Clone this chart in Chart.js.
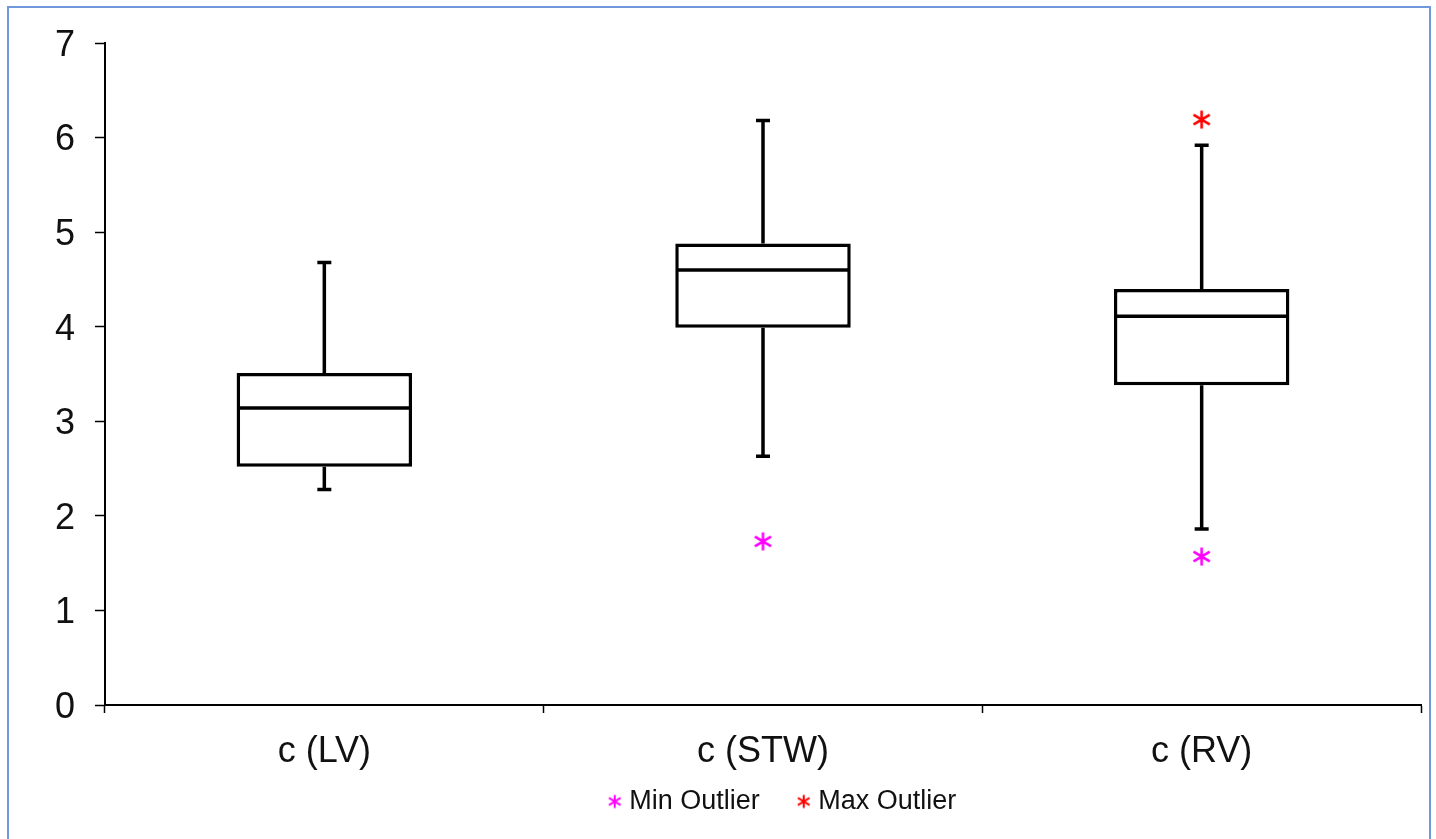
<!DOCTYPE html>
<html>
<head>
<meta charset="utf-8">
<script src="https://cdn.jsdelivr.net/npm/chart.js@4.4.1/dist/chart.umd.min.js"></script>
<style>
  html, body { margin: 0; padding: 0; background: #fff; overflow: hidden; }
  #wrap { position: relative; width: 1436px; height: 839px; }
  #frame {
    position: absolute; left: 7px; top: 6px; width: 1424px; height: 900px;
    border: 2px solid #7197dd; box-sizing: border-box; pointer-events: none;
  }
</style>
</head>
<body>
<div id="wrap">
  <canvas id="chart"></canvas>
  <div id="frame"></div>
</div>
<script>
// categories and box statistics
const categories = ["c (LV)", "c (STW)", "c (RV)"];
const whiskerMin = [2.28, 2.63, 1.86];
const quartile1 = [2.52, 3.99, 3.38];
const medians = [3.14, 4.60, 4.11];
const quartile3 = [3.51, 4.88, 4.40];
const whiskerMax = [4.68, 6.18, 5.92];
const minOutliers = [null, 1.73, 1.57];
const maxOutliers = [null, null, 6.19];
const yTicks = [0, 1, 2, 3, 4, 5, 6, 7];

// asterisk marker drawn on a small canvas
function makeStar(color, size, lw) {
  const c = document.createElement("canvas");
  c.width = size; c.height = size;
  const g = c.getContext("2d");
  const m = size / 2, r = size / 2 - 1.5;
  g.strokeStyle = color;
  g.lineWidth = lw;
  g.beginPath();
  g.moveTo(m, m - r); g.lineTo(m, m + r);
  const dx = r * 0.9, dy = r * 0.55;
  g.moveTo(m - dx, m - dy); g.lineTo(m + dx, m + dy);
  g.moveTo(m - dx, m + dy); g.lineTo(m + dx, m - dy);
  g.stroke();
  return c;
}
const magentaStar = makeStar("#ff00ff", 21, 2.6);
const redStar = makeStar("#ff0000", 21, 2.6);
const magentaSmall = makeStar("#ff00ff", 16, 2);
const redSmall = makeStar("#ff0000", 16, 2);

const lineW = 3.5;

// whiskers + median drawn with the chart's own scales
const boxPlotLines = {
  id: "boxPlotLines",
  afterLayout(chart) {
    // nudge legend: up under the axis labels and a bit right, like the original
    const lg = chart.legend;
    lg.top -= 28; lg.bottom -= 28;
    lg.left += 22; lg.right += 22;
  },
  beforeDatasetsDraw(chart) {
    const ctx = chart.ctx;
    const y = chart.scales.y;
    const meta = chart.getDatasetMeta(0);
    ctx.save();
    ctx.strokeStyle = "#000";
    ctx.lineWidth = lineW;
    meta.data.forEach((bar, i) => {
      const cap = 7;
      const yMin = y.getPixelForValue(whiskerMin[i]);
      const yMax = y.getPixelForValue(whiskerMax[i]);
      const yQ1 = y.getPixelForValue(quartile1[i]);
      const yQ3 = y.getPixelForValue(quartile3[i]);
      ctx.beginPath();
      ctx.moveTo(bar.x, yQ3); ctx.lineTo(bar.x, yMax);
      ctx.moveTo(bar.x - cap, yMax); ctx.lineTo(bar.x + cap, yMax);
      ctx.moveTo(bar.x, yQ1); ctx.lineTo(bar.x, yMin);
      ctx.moveTo(bar.x - cap, yMin); ctx.lineTo(bar.x + cap, yMin);
      ctx.stroke();
    });
    ctx.restore();
  },
  afterDatasetDraw(chart, args) {
    if (args.index !== 0) return;
    const ctx = chart.ctx;
    const y = chart.scales.y;
    ctx.save();
    ctx.strokeStyle = "#000";
    ctx.lineWidth = lineW;
    args.meta.data.forEach((bar, i) => {
      const ym = y.getPixelForValue(medians[i]);
      ctx.beginPath();
      ctx.moveTo(bar.x - bar.width / 2 + 1, ym);
      ctx.lineTo(bar.x + bar.width / 2 - 1, ym);
      ctx.stroke();
    });
    ctx.restore();
  }
};

const font = "'Liberation Sans', Arial, sans-serif";

new Chart(document.getElementById("chart"), {
  data: {
    labels: categories,
    datasets: [
      {
        type: "bar",
        label: "Box",
        data: categories.map((c, i) => [quartile1[i], quartile3[i]]),
        backgroundColor: "#fff",
        borderColor: "#000",
        borderWidth: lineW,
        borderSkipped: false,
        categoryPercentage: 1,
        barPercentage: 0.4
      },
      {
        type: "line",
        label: "Min Outlier",
        data: minOutliers,
        showLine: false,
        pointStyle: magentaStar,
        borderColor: "#ff00ff",
        backgroundColor: "#ff00ff"
      },
      {
        type: "line",
        label: "Max Outlier",
        data: maxOutliers,
        showLine: false,
        pointStyle: redStar,
        borderColor: "#ff0000",
        backgroundColor: "#ff0000"
      }
    ]
  },
  options: {
    responsive: true,
    maintainAspectRatio: false,
    animation: false,
    layout: { padding: { left: 0, top: 43, right: 15, bottom: -14 } },
    plugins: {
      tooltip: { enabled: false },
      legend: {
        position: "bottom",
        fullSize: false,
        labels: {
          font: { family: font, size: 27 },
          color: "#111",
          usePointStyle: true,
          boxHeight: 16,
          pointStyleWidth: 2,
          padding: 43,
          filter: item => item.datasetIndex > 0,
          generateLabels(chart) {
            const items = Chart.defaults.plugins.legend.labels.generateLabels(chart);
            items.forEach(it => {
              if (it.datasetIndex === 1) it.pointStyle = magentaSmall;
              if (it.datasetIndex === 2) it.pointStyle = redSmall;
            });
            return items;
          }
        }
      }
    },
    scales: {
      x: {
        type: "category",
        offset: true,
        grid: { display: true, drawOnChartArea: false, offset: true, tickLength: 8, color: "#000", tickWidth: 1.5 },
        border: { display: true, color: "#000", width: 2 },
        ticks: { font: { family: font, size: 36 }, color: "#111", padding: 17 },
        afterFit(scale) { scale.height = 68; }
      },
      y: {
        min: 0,
        max: 7,
        afterBuildTicks(scale) { scale.ticks = yTicks.map(v => ({ value: v })); },
        grid: { display: true, drawOnChartArea: false, tickLength: 10, color: "#000", tickWidth: 1.5 },
        border: { display: true, color: "#000", width: 2 },
        ticks: { font: { family: font, size: 36 }, color: "#111", padding: 20, labelOffset: 3 },
        afterFit(scale) { scale.width = 105; }
      }
    }
  },
  plugins: [boxPlotLines]
});
</script>
</body>
</html>
